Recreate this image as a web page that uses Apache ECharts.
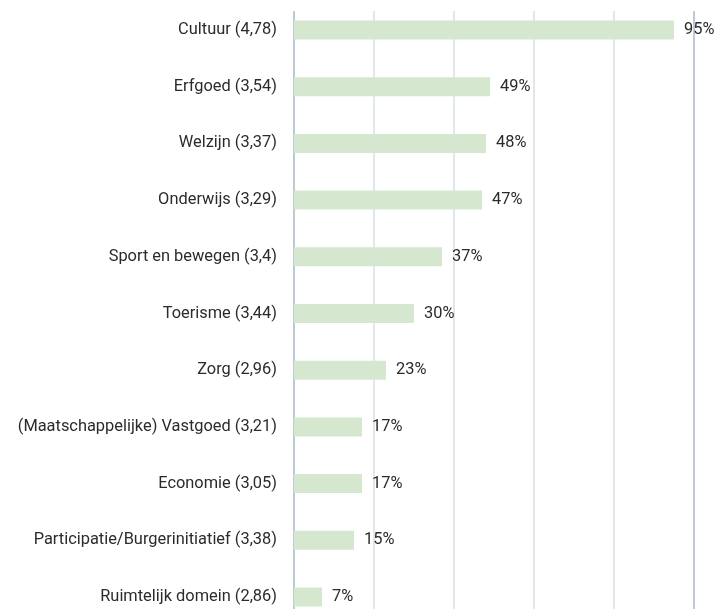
<!DOCTYPE html>
<html>
<head>
<meta charset="utf-8">
<script src="https://cdn.jsdelivr.net/npm/echarts@6/dist/echarts.min.js"></script>
<style>
html,body{margin:0;padding:0;background:#fff;}
#chart{width:719px;height:609px;}
</style>
</head>
<body>
<div id="chart"></div>
<script>
const categories = [
  "Cultuur (4,78)",
  "Erfgoed (3,54)",
  "Welzijn (3,37)",
  "Onderwijs (3,29)",
  "Sport en bewegen (3,4)",
  "Toerisme (3,44)",
  "Zorg (2,96)",
  "(Maatschappelijke) Vastgoed (3,21)",
  "Economie (3,05)",
  "Participatie/Burgerinitiatief (3,38)",
  "Ruimtelijk domein (2,86)"
];
const values = [95, 49, 48, 47, 37, 30, 23, 17, 17, 15, 7];
const xTicks = [0, 20, 40, 60, 80, 100];

const chart = echarts.init(document.getElementById('chart'), null, {renderer: 'canvas'});
const FONT = 'Roboto, "Open Sans", sans-serif';
const dark = '#a7b9c7', light = '#d6e0e8';
chart.setOption({
  animation: false,
  grid: [
    {left: 294, right: 25, top: 11, bottom: 0, outerBoundsMode: 'none'},
    {left: 294, right: 25, top: 1.65, height: 623.7, outerBoundsMode: 'none'}
  ],
  xAxis: [
    {gridIndex: 0, type: 'value', min: xTicks[0], max: xTicks[xTicks.length-1], interval: 20,
     axisLine: {show: false}, axisTick: {show: false}, axisLabel: {show: false},
     splitLine: {show: true, lineStyle: {color: [dark, light, light, light, light, dark], width: 1.5}}},
    {gridIndex: 1, type: 'value', min: xTicks[0], max: xTicks[xTicks.length-1],
     axisLine: {show: false}, axisTick: {show: false}, axisLabel: {show: false}, splitLine: {show: false}}
  ],
  yAxis: [
    {gridIndex: 0, type: 'category', data: categories, show: false},
    {gridIndex: 1, type: 'category', data: categories, inverse: true,
     axisLine: {show: false}, axisTick: {show: false}, splitLine: {show: false},
     axisLabel: {color: '#2b2b2b', fontSize: 16.4, fontFamily: FONT, margin: 17}}
  ],
  series: [{
    type: 'bar', xAxisIndex: 1, yAxisIndex: 1, data: values, barWidth: 19,
    itemStyle: {color: '#d5e8cf'},
    label: {show: true, position: 'right', distance: 10, formatter: '{c}%', color: '#2b2b2b', fontSize: 16.4, fontFamily: FONT}
  }]
});
</script>
</body>
</html>
